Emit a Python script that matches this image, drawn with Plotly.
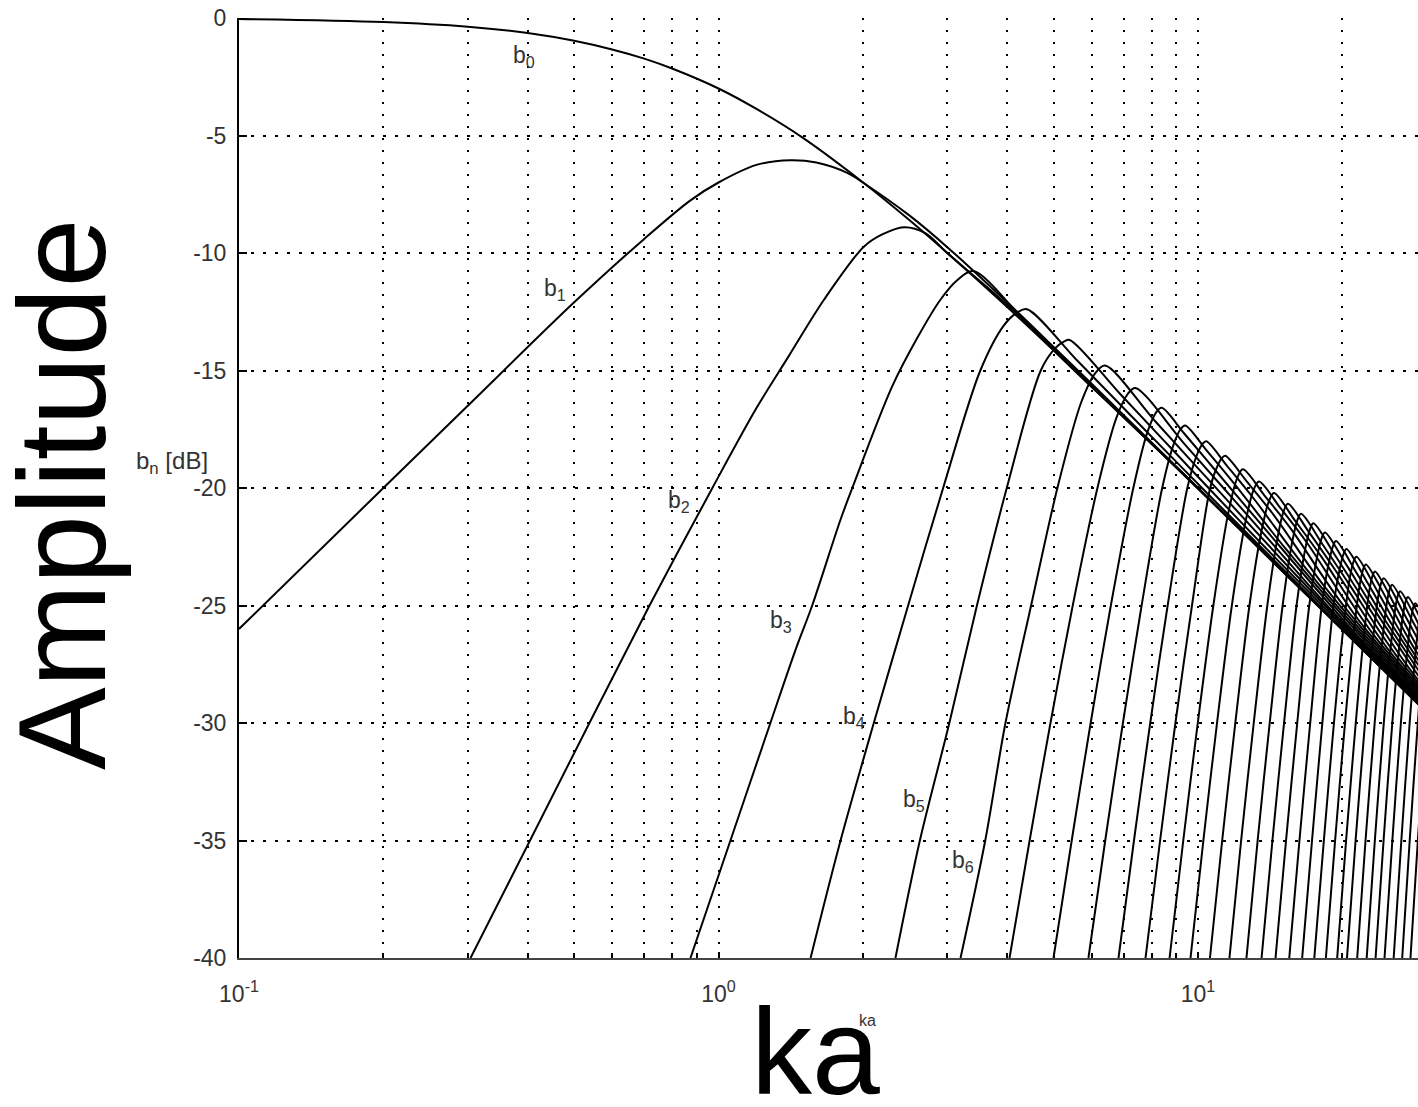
import math
import plotly.graph_objects as go

# ---- mode amplitudes b_n(ka) in dB ----
b0_ka = [0.1, 0.2, 0.3, 0.4, 0.5, 0.6, 0.7, 0.8, 1.0, 1.2, 1.5, 2.0, 2.5, 3.0, 4.0, 5.0, 6.0, 8.0, 10.0, 13.0, 16.0, 20.0, 25.0, 30.0]
b0_db = [-0.04, -0.17, -0.37, -0.64, -0.97, -1.34, -1.73, -2.15, -3.0, -3.87, -5.1, -6.99, -8.6, -10.0, -12.3, -14.15, -15.7, -18.1, -20.0, -22.3, -24.1, -26.0, -27.96, -29.55]

b1_ka = [0.1, 0.2, 0.3, 0.5, 0.7, 0.874, 1.0, 1.2, 1.414, 1.6, 1.86, 2.0, 2.5, 3.0, 4.0, 5.0, 7.0, 10.0, 15.0, 20.0, 30.0]
b1_db = [-26.0, -20.0, -16.5, -12.1, -9.4, -7.76, -7.0, -6.25, -6.05, -6.15, -6.6, -7.0, -8.4, -9.75, -12.1, -14.0, -16.9, -20.0, -23.5, -26.0, -29.55]

b2_ka = [0.304, 0.538, 0.718, 0.971, 1.2, 1.4, 1.658, 2.01, 2.2, 2.435, 2.7, 3.0, 4.0, 5.0, 7.0, 10.0, 15.0, 20.0, 30.0]
b2_db = [-40, -30, -25, -20, -16.6, -14.4, -12.0, -9.73, -9.2, -8.9, -9.15, -10.0, -12.2, -14.1, -17.0, -20.0, -23.52, -26.02, -29.55]

b3_ka = [0.874, 1.059, 1.283, 1.447, 1.568, 1.797, 1.901, 2.3, 2.6, 2.9, 3.15, 3.4, 4.375, 5.6, 8.75, 14.0, 30.0]
b3_db = [-40, -35, -30, -26.9, -25, -21.34, -20, -15.7, -13.6, -12.0, -11.15, -10.77, -12.93, -15.04, -18.88, -22.94, -29.55]

# orders 4..31: ka where each curve crosses the -40 ... -15 dB grid levels on its way up
hi_orders = list(range(4, 32))
ka_m40 = [1.556, 2.339, 3.197, 4.045, 4.996, 5.909, 6.827, 7.772, 8.724, 9.647, 10.59, 11.63, 12.62, 13.57,
          14.51, 15.50, 16.49, 17.48, 18.48, 19.51, 20.45, 21.48, 22.48, 23.46, 24.49, 25.59, 26.66, 27.74]
ka_m35 = [1.797, 2.63, 3.60, 4.455, 5.453, 6.405, 7.353, 8.336, 9.317, 10.261, 11.232, 12.302, 13.317, 14.296,
          15.262, 16.277, 17.290, 18.300, 19.317, 20.363, 21.313, 22.356, 23.379, 24.380, 25.430, 26.550, 27.638, 28.739]
ka_m30 = [2.108, 3.03, 3.967, 4.924, 5.972, 6.973, 7.950, 8.973, 9.989, 10.957, 11.962, 13.069, 14.110, 15.117,
          16.105, 17.140, 18.167, 19.209, 20.256, 21.330, 22.299, 23.360, 24.404, 25.421, 26.491, 27.630, 28.734, 29.848]
ka_m25 = [2.486, 3.459, 4.487, 5.480, 6.580, 7.628, 8.644, 9.715, 10.765, 11.765, 12.803, 13.950, 15.014, 16.052,
          17.065, 18.124, 19.170, None, None, None, None, None, None, None, None, None, None, None]
ka_m20 = [2.941, 3.992, 5.091, 6.17, 7.33, 8.42, 9.50, 10.6] + [None] * 20
ka_m15 = [3.516, 4.70] + [None] * 26

# rounding into the top of each curve
shoulder_ka = [[3.934, 4.207], [5.038, 5.252], [5.708, 6.114], [6.757, 7.136], [7.847, 8.174], [8.896, 9.195],
               [9.939, 10.213], [10.992, 11.236], [11.553, 12.054], [12.556, 13.055], [13.578, 14.065],
               [14.657, 15.098], [15.691, 16.113], [16.713, 17.121], [17.720, 18.124], [18.751, 19.138],
               [19.775, 20.148], [20.058, 20.718, 21.123], [21.088, 21.733, 22.132], [22.136, 22.758, 23.141],
               [23.117, 23.749, 24.137], [24.154, 24.768, 25.146], [25.186, 25.786, 26.152],
               [26.193, 26.789, 27.155], [27.239, 27.813, 28.164], [28.324, 28.858, 29.181],
               [29.389, 29.889, 30.195], [30.459, 30.927, 31.210]]
shoulder_db = [[-13.09, -12.52], [-14.05, -13.77], [-16.35, -15.10], [-17.02, -16.00], [-17.61, -16.79],
               [-18.14, -17.50], [-18.61, -18.13], [-19.04, -18.71], [-21.11, -19.61], [-21.46, -20.09],
               [-21.79, -20.55], [-22.10, -20.97], [-22.39, -21.37], [-22.66, -21.75], [-22.92, -22.11],
               [-23.16, -22.45], [-23.39, -22.77], [-26.11, -23.85, -23.11], [-26.29, -24.13, -23.42],
               [-26.45, -24.39, -23.71], [-26.61, -24.64, -23.99], [-26.77, -24.88, -24.27],
               [-26.91, -25.12, -24.53], [-27.05, -25.34, -24.77], [-27.20, -25.56, -25.03],
               [-27.33, -25.77, -25.26], [-27.45, -25.97, -25.49], [-27.58, -26.17, -25.71]]

peak_ka = [4.4, 5.4, 6.4, 7.4, 8.4, 9.4, 10.4, 11.4, 12.4, 13.4, 14.4, 15.4, 16.4, 17.4,
           18.4, 19.4, 20.4, 21.4, 22.4, 23.4, 24.4, 25.4, 26.4, 27.4, 28.4, 29.4, 30.4, 31.4]
peak_db = [-12.39, -13.70, -14.79, -15.74, -16.59, -17.34, -18.01, -18.63, -19.20, -19.72, -20.21, -20.67, -21.10, -21.50,
           -21.89, -22.26, -22.60, -22.93, -23.25, -23.55, -23.84, -24.12, -24.39, -24.64, -24.90, -25.14, -25.37, -25.60]

# descent after the peak into the common band
tail_ka = [[5.625, 7.2, 11.25, 18.0, 30.0], [6.875, 8.8, 13.75, 22.0, 30.0], [8.125, 10.4, 16.25, 26.0, 30.0],
           [9.375, 12.0, 18.75, 30.0], [9.35, 10.625, 13.6, 21.25, 34.0], [10.45, 11.875, 15.2, 23.75, 38.0],
           [11.55, 13.125, 16.8, 26.25, 42.0], [12.65, 14.375, 18.4, 28.75, 46.0], [13.75, 15.625, 20.0, 31.25],
           [14.85, 16.875, 21.6, 33.75], [15.95, 18.125, 23.2, 36.25], [17.05, 19.375, 24.8, 38.75],
           [18.15, 20.625, 26.4, 41.25], [19.25, 21.875, 28.0, 43.75], [20.35, 23.125, 29.6],
           [21.45, 24.375, 31.2], [22.55, 25.625, 32.8], [23.65, 26.875, 34.4], [24.75, 28.125, 36.0],
           [25.85, 29.375, 37.6], [26.95, 30.625], [28.05, 31.875], [29.15, 33.125], [30.25, 34.375],
           [31.35, 35.625], [32.45, 36.875], [33.55, 38.125], [34.65, 39.375]]
tail_db = [[-14.62, -16.86, -20.88, -25.04, -29.51], [-15.99, -18.32, -22.49, -26.71, -29.47],
           [-17.14, -19.54, -23.84, -28.16, -29.44], [-18.13, -20.60, -25.08, -29.40],
           [-17.67, -19.01, -21.59, -26.17, -30.49], [-18.43, -19.79, -22.56, -27.13, -31.46],
           [-19.11, -20.50, -23.43, -28.00, -32.32], [-19.73, -21.14, -24.22, -28.79, -33.12],
           [-20.31, -21.74, -24.94, -29.52], [-20.85, -22.33, -25.61, -30.19], [-21.40, -22.95, -26.23, -30.81],
           [-21.89, -23.52, -26.81, -31.39], [-22.37, -24.07, -27.35, -31.93], [-22.82, -24.58, -27.86, -32.44],
           [-23.24, -25.06, -28.35], [-23.64, -25.52, -28.80], [-24.02, -25.95, -29.24], [-24.38, -26.37, -29.65],
           [-24.73, -26.76, -30.05], [-25.06, -27.14, -30.42], [-25.38, -27.50], [-25.68, -27.85],
           [-25.98, -28.18], [-26.25, -28.50], [-26.54, -28.82], [-26.79, -29.12], [-27.05, -29.40], [-27.30, -29.68]]

# curve labels b0..b6, anchored at the left edge of the text
label_names = ["b<sub>0</sub>", "b<sub>1</sub>", "b<sub>2</sub>", "b<sub>3</sub>", "b<sub>4</sub>", "b<sub>5</sub>", "b<sub>6</sub>"]
label_ka = [0.370, 0.4275, 0.779, 1.271, 1.797, 2.397, 3.046]
label_db = [-1.64, -11.55, -20.57, -25.68, -29.77, -33.30, -35.89]

y_ticks = [0, -5, -10, -15, -20, -25, -30, -35, -40]
x_major = [0.1, 1, 10]
x_major_text = ["10<sup>-1</sup>", "10<sup>0</sup>", "10<sup>1</sup>"]
x_minor = [0.2, 0.3, 0.4, 0.5, 0.6, 0.7, 0.8, 0.9, 2, 3, 4, 5, 6, 7, 8, 9, 20]

FONT = "Liberation Sans, Arial, sans-serif"
TXT = "#333333"
LINE = dict(color="black", width=2, shape="spline", smoothing=0.9)

fig = go.Figure()


def add_curve(ka, db):
    fig.add_trace(go.Scatter(x=ka, y=db, mode="lines", line=LINE,
                             showlegend=False, hoverinfo="skip"))


add_curve(b0_ka, b0_db)
add_curve(b1_ka, b1_db)
add_curve(b2_ka, b2_db)
add_curve(b3_ka, b3_db)

levels = [(-40, ka_m40), (-35, ka_m35), (-30, ka_m30), (-25, ka_m25), (-20, ka_m20), (-15, ka_m15)]
for i, n in enumerate(hi_orders):
    xs, ys = [], []
    for lev, col in levels:
        if col[i] is not None:
            xs.append(col[i])
            ys.append(lev)
    xs += shoulder_ka[i]
    ys += shoulder_db[i]
    xs.append(peak_ka[i])
    ys.append(peak_db[i])
    xs += tail_ka[i]
    ys += tail_db[i]
    add_curve(xs, ys)

# plot area: 1179 px wide, one decade = 479.5 px
x_hi = -1 + 1179 / 479.5

grid = dict(showgrid=True, gridcolor="black", gridwidth=2, griddash="2px,10px")
fig.update_layout(
    width=1418, height=1107,
    margin=dict(l=239, r=0, t=18, b=149),
    paper_bgcolor="white", plot_bgcolor="white",
    font=dict(family=FONT, size=23, color=TXT),
    xaxis=dict(type="log", range=[-1, x_hi], tickmode="array", tickvals=x_major, ticktext=x_major_text,
               ticks="inside", ticklen=6, tickcolor="black", tickwidth=1.5,
               showline=True, linecolor="#444444", linewidth=2,
               zeroline=False, tickfont=dict(size=23, color=TXT), ticklabelstandoff=14,
               minor=dict(tickmode="array", tickvals=x_minor, ticks="inside", ticklen=5,
                          tickcolor="black", tickwidth=1.5, **grid),
               **grid),
    yaxis=dict(range=[-40, 0], tickmode="array", tickvals=y_ticks, ticktext=[str(v) for v in y_ticks],
               ticks="inside", ticklen=8, tickcolor="black", tickwidth=1.5,
               showline=True, linecolor="black", linewidth=2,
               showgrid=True, gridcolor="black", gridwidth=1.5, griddash="3px,9px",
               zeroline=False, tickfont=dict(size=23, color=TXT), ticklabelstandoff=6),
)

for name, ka, db in zip(label_names, label_ka, label_db):
    fig.add_annotation(x=math.log10(ka), y=db, xref="x", yref="y", text=name, showarrow=False,
                       xanchor="left", yanchor="middle", font=dict(size=23, color=TXT, family=FONT))


def px_to_paper(px, py):
    return (px - 239) / 1179, (958 - py) / 940


# axis titles
ax, ay = px_to_paper(134, 462)
fig.add_annotation(x=ax, y=ay, xref="paper", yref="paper", text="b<sub>n</sub> [dB]", showarrow=False,
                   xanchor="left", yanchor="middle", font=dict(size=24, color=TXT, family=FONT))
ax, ay = px_to_paper(867, 1020)
fig.add_annotation(x=ax, y=ay, xref="paper", yref="paper", text="ka", showarrow=False,
                   xanchor="center", yanchor="middle", font=dict(size=16, color=TXT, family=FONT))

# large overlay titles
ax, ay = px_to_paper(62, 495)
fig.add_annotation(x=ax, y=ay, xref="paper", yref="paper", text="Amplitude",
                   textangle=-90, showarrow=False, xanchor="center", yanchor="middle",
                   font=dict(size=124, color="black", family=FONT))
ax, ay = px_to_paper(815, 1052)
fig.add_annotation(x=ax, y=ay, xref="paper", yref="paper", text="ka",
                   showarrow=False, xanchor="center", yanchor="middle",
                   font=dict(size=122, color="black", family=FONT))

fig.write_html("out.html")
